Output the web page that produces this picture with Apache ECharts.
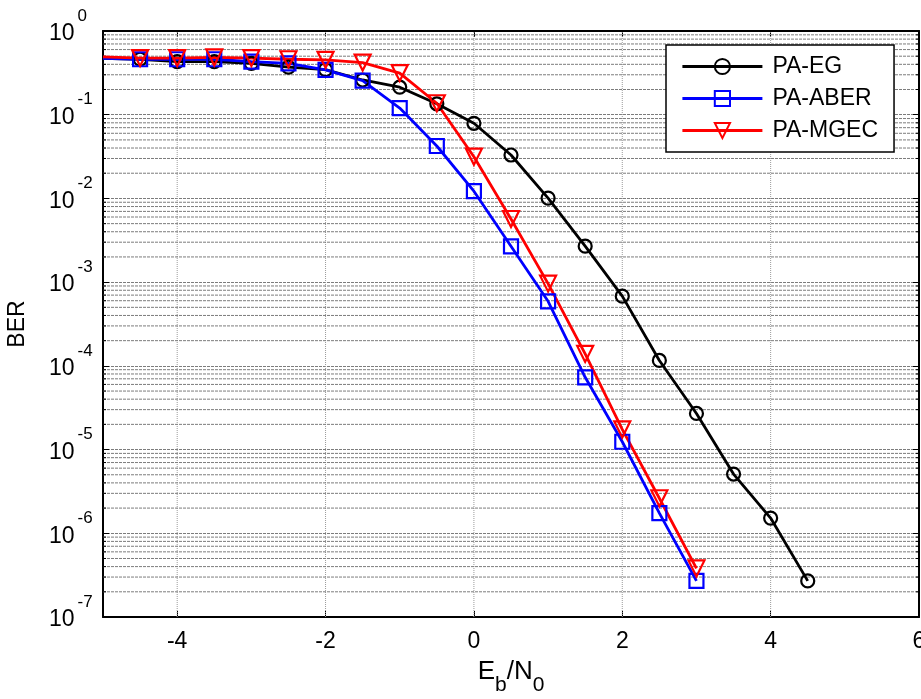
<!DOCTYPE html>
<html>
<head>
<meta charset="utf-8">
<script src="https://cdn.jsdelivr.net/npm/echarts@6/dist/echarts.min.js"></script>
<style>
  html, body { margin: 0; padding: 0; background: #fff; }
  #chart { width: 921px; height: 699px; }
</style>
</head>
<body>
<div id="chart"></div>
<script>
// Eb/N0 sweep (dB)
const ebn0 = [-5, -4.5, -4, -3.5, -3, -2.5, -2, -1.5, -1, -0.5, 0, 0.5, 1, 1.5, 2, 2.5, 3, 3.5, 4, 4.5];

// Bit error rate per scheme
const berEG   = [0.47, 0.46, 0.43, 0.43, 0.41, 0.37, 0.345, 0.26, 0.213, 0.135, 0.079, 0.033, 0.0101, 0.00269, 6.8e-4, 1.16e-4, 2.7e-5, 5.1e-6, 1.52e-6, 2.7e-7];
const berABER = [0.47, 0.46, 0.46, 0.46, 0.43, 0.41, 0.344, 0.256, 0.12, 0.0423, 0.0122, 0.00268, 5.9e-4, 7.3e-5, 1.24e-5, 1.74e-6, 2.7e-7];
const berMGEC = [0.49, 0.475, 0.475, 0.483, 0.475, 0.46, 0.453, 0.42, 0.314, 0.137, 0.0315, 0.00568, 9.6e-4, 1.39e-4, 1.74e-5, 2.62e-6, 3.8e-7];

const seriesNames = ['PA-EG', 'PA-ABER', 'PA-MGEC'];

// Axis ticks
const xTicks = [-4, -2, 0, 2, 4, 6];
const xRange = [-5, 6];
const yRange = [1e-7, 1];

// Minor decade lines (2..9 x 10^k)
const minorY = [];
for (let k = -7; k < 0; k++) {
  for (let m = 2; m <= 9; m++) minorY.push(m * Math.pow(10, k));
}

const FONT = 'Liberation Sans, Arial, sans-serif';
const H_GRID = '#7c7c7c';
const V_GRID = '#9a9a9a';

function pairs(ys) {
  return ys.map((y, i) => {
    const item = { value: [ebn0[i], y] };
    if (i === 0) item.symbol = 'none';
    return item;
  });
}

function curve(name, ys, color, symbol, size, rotate) {
  return {
    name: name,
    type: 'line',
    data: pairs(ys),
    color: color,
    symbol: symbol,
    symbolSize: size,
    symbolRotate: rotate,
    showAllSymbol: true,
    lineStyle: { color: color, width: 2.8 },
    itemStyle: { color: 'rgba(255,255,255,0)', borderColor: color, borderWidth: 2.2 },
    emphasis: { disabled: true },
    z: 5
  };
}

const chart = echarts.init(document.getElementById('chart'), null, { renderer: 'canvas' });

chart.setOption({
  animation: false,
  backgroundColor: '#fff',
  textStyle: { fontFamily: FONT },
  grid: { left: 103, right: 2, top: 31, bottom: 82, containLabel: false, outerBoundsMode: 'none' },
  legend: {
    data: seriesNames,
    left: 666,
    top: 45,
    orient: 'vertical',
    itemWidth: 80,
    itemHeight: 19,
    itemGap: 9,
    padding: [10, 16, 10, 15],
    backgroundColor: '#fff',
    borderColor: '#000',
    borderWidth: 1.5,
    borderRadius: 0,
    lineStyle: { width: 2.8 },
    textStyle: { fontSize: 23, color: '#000', fontFamily: FONT, padding: [0, 0, 0, 5] }
  },
  xAxis: [
    {
      type: 'value',
      position: 'bottom',
      min: xRange[0],
      max: xRange[1],
      name: '{e|E}{s|b}{e|/N}{s|0}',
      nameLocation: 'middle',
      nameGap: 31,
      nameTextStyle: {
        color: '#000',
        rich: {
          e: { fontSize: 26, color: '#000', fontFamily: FONT },
          s: { fontSize: 21, color: '#000', fontFamily: FONT, padding: [27, 0, 0, 0] }
        }
      },
      axisLine: { show: true, onZero: false, lineStyle: { color: '#000', width: 2 } },
      axisTick: { show: true, inside: true, length: 6, customValues: xTicks, lineStyle: { color: '#000', width: 1 } },
      axisLabel: { customValues: xTicks, fontSize: 23, color: '#000', margin: 13, fontFamily: FONT },
      splitLine: { show: false }
    },
    {
      type: 'value',
      position: 'top',
      min: xRange[0],
      max: xRange[1],
      axisLine: { show: true, onZero: false, lineStyle: { color: '#000', width: 2 } },
      axisTick: { show: true, inside: true, length: 6, customValues: xTicks, lineStyle: { color: '#000', width: 1 } },
      axisLabel: { show: false },
      splitLine: { show: false }
    }
  ],
  yAxis: [
    {
      type: 'log',
      logBase: 10,
      position: 'left',
      min: yRange[0],
      max: yRange[1],
      name: 'BER',
      nameLocation: 'middle',
      nameGap: 74,
      nameRotate: 90,
      nameTextStyle: { fontSize: 23, color: '#000', fontFamily: FONT },
      axisLine: { show: true, onZero: false, lineStyle: { color: '#000', width: 2 } },
      axisTick: { show: true, inside: true, length: 6, lineStyle: { color: '#000', width: 1 } },
      axisLabel: {
        align: 'left',
        margin: 54,
        formatter: function (v) {
          const e = Math.round(Math.log10(v));
          return '{b|10}{p|' + e + '}';
        },
        rich: {
          b: { fontSize: 23, color: '#000', fontFamily: FONT, padding: [6, 0, 0, 0] },
          p: { fontSize: 17, color: '#000', fontFamily: FONT, padding: [0, 0, 30, 3] }
        }
      },
      splitLine: { show: true, lineStyle: { color: H_GRID, width: 1, type: [3, 1] } }
    },
    {
      type: 'log',
      logBase: 10,
      position: 'right',
      min: yRange[0],
      max: yRange[1],
      axisLine: { show: true, onZero: false, lineStyle: { color: '#000', width: 2 } },
      axisTick: { show: true, inside: true, length: 6, lineStyle: { color: '#000', width: 1 } },
      axisLabel: { show: false },
      splitLine: { show: false }
    }
  ],
  series: [
    {
      // vertical major grid lines at the x ticks
      name: 'xGrid',
      type: 'custom',
      silent: true,
      clip: false,
      data: xTicks.slice(0, -1).map(v => [v, yRange[0]]),
      renderItem: function (params, api) {
        const b = api.coord([api.value(0), yRange[0]]);
        const t = api.coord([api.value(0), yRange[1]]);
        return {
          type: 'line',
          shape: { x1: b[0], y1: b[1], x2: t[0], y2: t[1] },
          style: { stroke: V_GRID, lineWidth: 1, lineDash: [1, 1] }
        };
      },
      z: 1
    },
    {
      // minor horizontal grid lines with small ticks on both frame sides
      name: 'minorGrid',
      type: 'custom',
      silent: true,
      clip: false,
      data: minorY.map(v => [xRange[0], v]),
      renderItem: function (params, api) {
        const l = api.coord([xRange[0], api.value(1)]);
        const r = api.coord([xRange[1], api.value(1)]);
        const tick = { stroke: '#000', lineWidth: 1 };
        return {
          type: 'group',
          children: [
            { type: 'line', shape: { x1: l[0], y1: l[1], x2: r[0], y2: r[1] },
              style: { stroke: H_GRID, lineWidth: 1, lineDash: [3, 1] } },
            { type: 'line', shape: { x1: l[0], y1: l[1], x2: l[0] + 3, y2: l[1] }, style: tick },
            { type: 'line', shape: { x1: r[0] - 3, y1: r[1], x2: r[0], y2: r[1] }, style: tick }
          ]
        };
      },
      z: 1
    },
    curve(seriesNames[0], berEG, '#000000', 'circle', 13, 0),
    curve(seriesNames[1], berABER, '#0000ff', 'rect', 14, 0),
    curve(seriesNames[2], berMGEC, '#ff0000', 'triangle', 16, 180)
  ]
});
</script>
</body>
</html>
